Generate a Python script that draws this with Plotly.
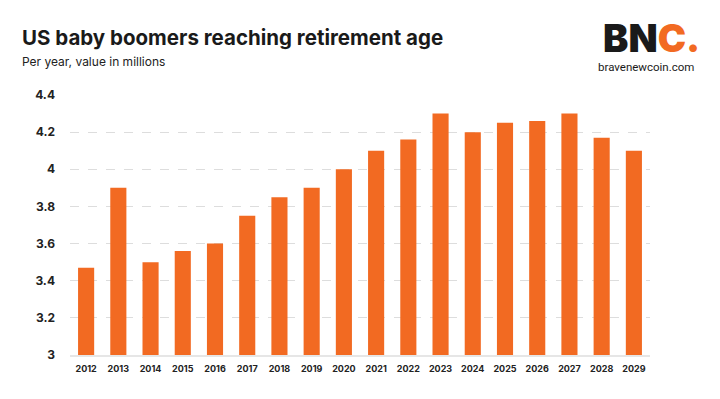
import plotly.graph_objects as go

years = [str(y) for y in range(2012, 2030)]
values = [3.47, 3.90, 3.50, 3.56, 3.60, 3.75, 3.85, 3.90, 4.00, 4.10, 4.16, 4.30, 4.20, 4.25, 4.26, 4.30, 4.17, 4.10]
y_ticks = [3, 3.2, 3.4, 3.6, 3.8, 4, 4.2, 4.4]
y_tick_labels = ["3", "3.2", "3.4", "3.6", "3.8", "4", "4.2", "4.4"]

orange = "#F26A22"
PW, PH = 580, 260

fig = go.Figure(go.Bar(
    x=years, y=values, marker=dict(color=orange, line=dict(width=0)),
    width=0.5,
))

fig.update_layout(
    width=720, height=399,
    margin=dict(l=70, r=70, t=95, b=44),
    paper_bgcolor="white", plot_bgcolor="white",
    showlegend=False,
    font=dict(family="Inter", color="#222"),
)
fig.update_yaxes(
    range=[3, 4.4], tickvals=y_ticks, ticktext=y_tick_labels,
    showgrid=True, gridcolor="#dddddd", griddash="dash", gridwidth=1,
    zeroline=False, showline=False, ticks="", ticklabelstandoff=14,
    tickfont=dict(family="Inter", size=12, color="#222", weight="bold"),
)
fig.update_xaxes(
    showline=True, linecolor="#e6e6e6", linewidth=2, ticks="",
    tickfont=dict(family="Inter", size=9, color="#222", weight="bold"),
    ticklabelstandoff=4,
)

fig.add_annotation(text="US baby boomers reaching retirement age", xref="paper", yref="paper",
                   x=-50/PW, y=1 + 57/PH, xanchor="left", yanchor="middle", showarrow=False,
                   font=dict(family="Inter", size=20.5, color="#1a1a1a", weight="bold"))
fig.add_annotation(text="Per year, value in millions", xref="paper", yref="paper",
                   x=-50/PW, y=1 + 34/PH, xanchor="left", yanchor="middle", showarrow=False,
                   font=dict(family="Inter", size=12, color="#222"))
fig.add_annotation(text="BN<span style='color:#F26A22'>C.</span>", xref="paper", yref="paper",
                   x=(651.5 - 70)/PW, y=1 + 57/PH, xanchor="center", yanchor="middle", showarrow=False,
                   font=dict(family="Inter", size=38, color="#1a1a1a", weight=900))
fig.add_annotation(text="bravenewcoin.com", xref="paper", yref="paper",
                   x=(646 - 70)/PW, y=1 + 28/PH, xanchor="center", yanchor="middle", showarrow=False,
                   font=dict(family="Roboto", size=11.5, color="#1a1a1a"))

fig.write_html("out.html", post_script="document.body.style.margin='0';",
               config={"displayModeBar": False})
